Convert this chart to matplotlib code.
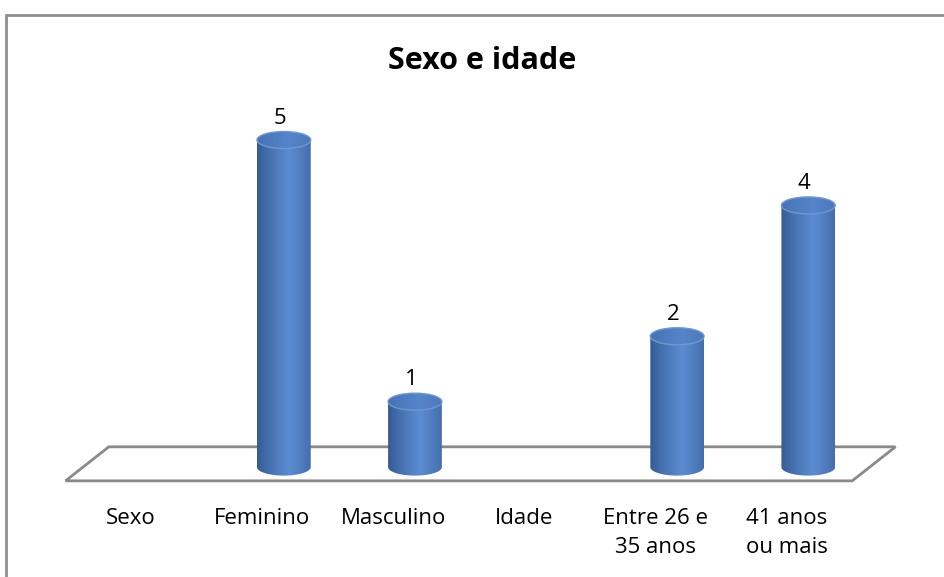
import numpy as np
import matplotlib
matplotlib.use("Agg")
import matplotlib.pyplot as plt
from matplotlib.patches import Ellipse, Polygon, PathPatch, Rectangle
from matplotlib.path import Path

plt.rcParams['font.family'] = ['Open Sans', 'DejaVu Sans']

# data
categories = ["Sexo", "Feminino", "Masculino", "Idade", "Entre 26 e\n35 anos", "41 anos\nou mais"]
values = [None, 5, 1, None, 2, 4]
title = "Sexo e idade"

depth = 0.33          # floor depth shift (x units)
half_w = 0.205        # cylinder half width (x units)
ell_h = 0.26          # ellipse height (y units)

fig = plt.figure(figsize=(9.44, 5.77), dpi=100)
ax = fig.add_axes([0, 0, 1, 1])
ax.set_xlim(-1.0, 6.2)
ax.set_ylim(-1.68, 7.14)
ax.axis('off')

# outer chart frame
fig.patches.append(Rectangle((6 / 944, -0.1), 1.2, 1.1 - 15 / 577, transform=fig.transFigure,
                             fill=False, edgecolor='#8e8e8e', lw=2))

# floor
floor = Polygon([(-0.5, -0.21), (5.5, -0.21), (5.5 + depth, 0.31), (-0.5 + depth, 0.31)],
                closed=True, facecolor='white', edgecolor='#8a8a8a', lw=2, zorder=1)
ax.add_patch(floor)

# gradient for cylinder body
t = np.linspace(0, 1, 200)
dark = np.array([0.20, 0.35, 0.57])
light = np.array([0.36, 0.55, 0.82])
prof = np.clip(1 - np.abs(t - 0.6) / 0.6, 0, 1) ** 0.8
grad = (dark[None, :] + (light - dark)[None, :] * prof[:, None])[None, :, :]

top_dark = np.array([0.27, 0.44, 0.70])
top_light = np.array([0.34, 0.52, 0.79])
top_grad = (top_dark[None, :] + (top_light - top_dark)[None, :] * prof[:, None])[None, :, :]

for i, v in enumerate(values):
    if v is None:
        continue
    xc = i + depth / 2
    x0, x1 = xc - half_w, xc + half_w
    ang = np.linspace(0, np.pi, 60)
    arc_x = xc + half_w * np.cos(ang)
    arc_y = -ell_h / 2 * np.sin(ang)
    verts = [(x0, 0), (x0, v), (x1, v), (x1, 0)] + list(zip(arc_x, arc_y)) + [(x0, 0)]
    clip = PathPatch(Path(verts, closed=True), facecolor='none', edgecolor='none',
                     transform=ax.transData)
    ax.add_patch(clip)
    im = ax.imshow(grad, extent=[x0, x1, -ell_h / 2, v], aspect='auto', zorder=2,
                   interpolation='bilinear')
    im.set_clip_path(clip)

    clip_top = Ellipse((xc, v), 2 * half_w, ell_h, transform=ax.transData)
    im2 = ax.imshow(top_grad, extent=[x0, x1, v - ell_h / 2, v + ell_h / 2], aspect='auto',
                    zorder=3, interpolation='bilinear')
    im2.set_clip_path(clip_top)
    ax.add_patch(Ellipse((xc, v), 2 * half_w, ell_h, facecolor='none', edgecolor='#6f98cf',
                         lw=1, zorder=4))

    ax.annotate(str(v), (xc - 0.03, v + ell_h / 2), xytext=(0, 2), textcoords='offset points',
                ha='center', va='bottom', fontsize=16, color='black')

# category labels
for i, lab in enumerate(categories):
    ax.text(i, -0.63, lab, ha='center', va='top', fontsize=16, color='black', linespacing=1.5)

ax.text(2.68, 6.2, title, ha='center', va='center', fontsize=22, fontweight='bold')

fig.savefig("out.png", dpi=100)
